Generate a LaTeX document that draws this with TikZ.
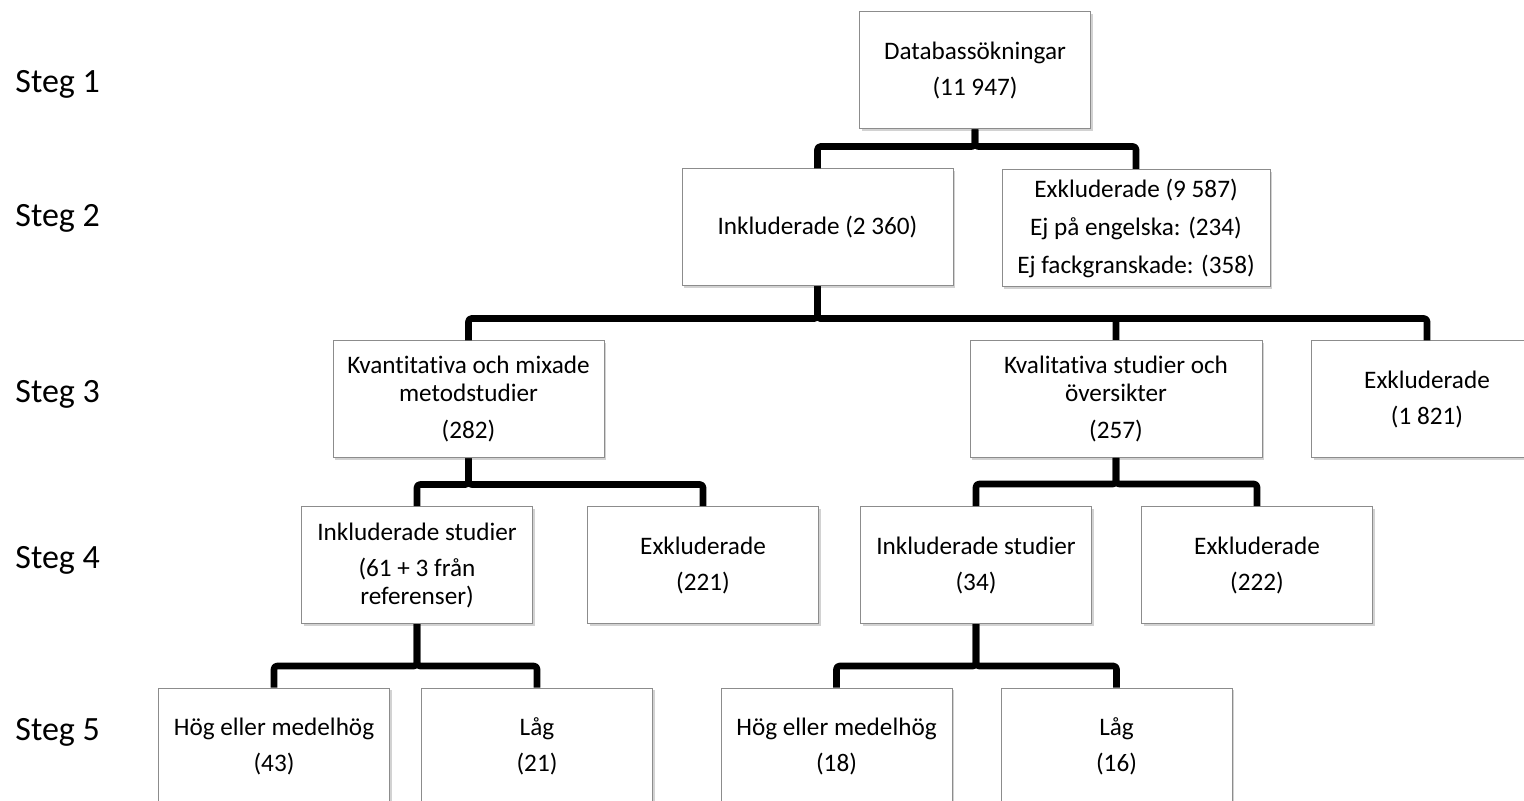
\documentclass[tikz,border=0pt]{standalone}
\usepackage{fontspec}
\setmainfont{Carlito}[Ligatures=NoCommon]
\usetikzlibrary{shadows}
\tikzstyle{box}=[draw=black!45, line width=.5pt, fill=white, align=center, minimum width=115.5pt, minimum height=58.5pt, inner sep=2pt, font=\fontsize{12.6}{14}\selectfont, drop shadow={fill=black!35, opacity=.5, shadow xshift=1.2pt, shadow yshift=-1.2pt}]
\tikzstyle{link}=[line width=3.3pt, line join=round, rounded corners=1.5pt]
\tikzstyle{steg}=[anchor=base west, inner sep=0pt, font=\fontsize{17}{20}\selectfont]

\begin{document}
\begin{tikzpicture}[x=.5pt, y=-.5pt]
    \useasboundingbox (0,0) rectangle (1524,801);

    \node[steg] (s1) at (15,93) {Steg 1};
    \node[steg] (s2) at (15,227) {Steg 2};
    \node[steg] (s3) at (15,403) {Steg 3};
    \node[steg] (s4) at (15,568) {Steg 4};
    \node[steg] (s5) at (15,740) {Steg 5};

    \node[box] (db) at (975,70.5) {Databassökningar\\[4pt](11 947)};
    \node[box, minimum width=135.5pt] (inkl) at (817.5,227.5) {Inkluderade (2 360)};
    \node[box, minimum width=134pt] (exkl) at (1136,228) {Exkluderade (9 587)\\[5pt]Ej på engelska: (234)\\[5pt]Ej fackgranskade: (358)};

    \node[box, minimum width=135.5pt] (kvant) at (468.5,399.5) {Kvantitativa och mixade\\metodstudier\\[4.5pt](282)};
    \node[box, minimum width=146pt] (kval) at (1116,399) {Kvalitativa studier och\\översikter\\[4.5pt](257)};
    \node[box] (exklc) at (1427,399.5) {Exkluderade\\[4pt](1 821)};

    \node[box] (kvantin) at (417,565) {Inkluderade studier\\[4pt](61 + 3 från\\referenser)};
    \node[box] (kvantex) at (703,565) {Exkluderade\\[4pt](221)};
    \node[box] (kvalin) at (976,565) {Inkluderade studier\\[4pt](34)};
    \node[box] (kvalex) at (1257,565) {Exkluderade\\[4pt](222)};

    \node[box] (kvanthog) at (274,746.5) {Hög eller medelhög\\[4pt](43)};
    \node[box] (kvantlag) at (537,746.5) {Låg\\[4pt](21)};
    \node[box] (kvalhog) at (836.5,746.5) {Hög eller medelhög\\[4pt](18)};
    \node[box] (kvallag) at (1116.5,746.5) {Låg\\[4pt](16)};

    \foreach \c in {inkl,exkl}
        \draw[link] (db.south) -- ++(0,17) -| (\c.north);
    \foreach \c in {kvant,kval,exklc}
        \draw[link] (inkl.south) -- ++(0,32) -| (\c.north);
    \foreach \c in {kvantin,kvantex}
        \draw[link] (kvant.south) -- ++(0,26) -| (\c.north);
    \foreach \c in {kvalin,kvalex}
        \draw[link] (kval.south) -- ++(0,26) -| (\c.north);
    \foreach \c in {kvanthog,kvantlag}
        \draw[link] (kvantin.south) -- ++(0,42) -| (\c.north);
    \foreach \c in {kvalhog,kvallag}
        \draw[link] (kvalin.south) -- ++(0,42) -| (\c.north);

\end{tikzpicture}
\end{document}
